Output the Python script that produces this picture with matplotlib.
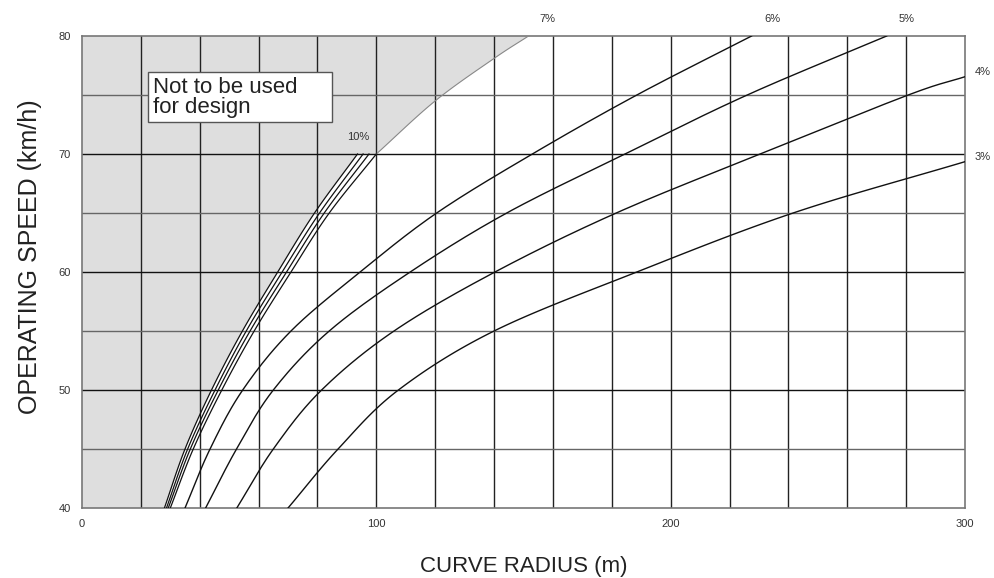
import numpy as np
import matplotlib
matplotlib.use("Agg")
import matplotlib.pyplot as plt
from matplotlib.patches import Rectangle

plt.rcParams["font.family"] = ["Liberation Sans", "DejaVu Sans"]

# operating speed steps (km/h) shared by most curves
speeds = [40, 45, 50, 55, 60, 65, 70]
speeds_full = [40, 45, 50, 55, 60, 65, 70, 75, 80]

# tight family of curves along the edge of the shaded zone (10% .. 7%)
radius_10 = [28.0, 35.0, 44.0, 54.5, 66.5, 79.0, 93.6]
radius_9 = [28.7, 35.9, 45.2, 55.8, 68.0, 80.7, 95.5]
radius_8 = [29.3, 36.8, 46.3, 57.1, 69.5, 82.3, 97.5]
radius_7 = [30.0, 37.8, 47.5, 58.5, 71.0, 84.0, 100.0]

# open curves
radius_6 = [35.0, 43.5, 54.6, 71.0, 94.5, 120.5, 153.0, 188.5, 227.5]
radius_5 = [42.0, 52.5, 65.0, 84.0, 111.5, 144.3, 184.5, 226.0, 273.4]
radius_4 = [52.6, 65.0, 81.4, 106.0, 140.3, 181.5, 230.4, 280.7, 300.0]
speed_4 = [40, 45, 50, 55, 60, 65, 70, 75, 76.55]
radius_3 = [70.0, 87.0, 107.5, 140.0, 188.5, 241.6, 300.0]
speed_3 = [40, 45, 50, 55, 60, 65, 69.35]

# upper limit of the shaded zone above 70 km/h
limit_radius = [100.0, 120.0, 140.0, 151.7]
limit_speed = [70.0, 74.5, 78.1, 80.0]

labels = ["10%", "7%", "6%", "5%", "4%", "3%"]
label_pos = [(93.8, 71.4), (158, 81.4), (234.5, 81.4), (280, 81.4),
             (306, 76.95), (306, 69.75)]


def smooth(xs, ys, n=20):
    # Catmull-Rom pass through the read points so the curves are not jagged
    p = np.column_stack([xs, ys]).astype(float)
    p = np.vstack([2 * p[0] - p[1], p, 2 * p[-1] - p[-2]])
    out = []
    t = np.linspace(0, 1, n, endpoint=False)[:, None]
    for i in range(1, len(p) - 2):
        p0, p1, p2, p3 = p[i - 1], p[i], p[i + 1], p[i + 2]
        seg = 0.5 * ((2 * p1) + (-p0 + p2) * t + (2 * p0 - 5 * p1 + 4 * p2 - p3) * t ** 2
                     + (-p0 + 3 * p1 - 3 * p2 + p3) * t ** 3)
        out.append(seg)
    out.append(p[-2][None, :])
    out = np.vstack(out)
    return out[:, 0], out[:, 1]


fig = plt.figure(figsize=(9.94, 5.78), dpi=100)
ax = fig.add_axes([0.0825, 0.1211, 0.8883, 0.8166])
ax.set_xlim(0, 300)
ax.set_ylim(40, 80)

# shaded "not for design" zone
ex, ey = smooth(radius_10, speeds)
lx, ly = smooth(limit_radius, limit_speed)
poly_x = np.concatenate([[0], ex, lx, [0]])
poly_y = np.concatenate([[40], ey, ly, [80]])
ax.fill(poly_x, poly_y, color="#dedede", lw=0, zorder=0)
ax.plot(lx, ly, color="#888888", lw=0.8, zorder=3)

# grid
for x in range(20, 300, 20):
    ax.axvline(x, color="#222222", lw=1.0, zorder=1)
for y in range(45, 80, 5):
    c = "#111111" if y % 10 == 0 else "#666666"
    ax.axhline(y, color=c, lw=1.0, zorder=1)

for r in [radius_10, radius_9, radius_8, radius_7]:
    sx, sy = smooth(r, speeds)
    ax.plot(sx, sy, color="#111111", lw=0.9, zorder=4)

for r, s in [(radius_6, speeds_full), (radius_5, speeds_full),
             (radius_4, speed_4), (radius_3, speed_3)]:
    sx, sy = smooth(r, s)
    ax.plot(sx, sy, color="#111111", lw=1.0, zorder=4)

for txt, (x, y) in zip(labels, label_pos):
    ax.text(x, y, txt, fontsize=8, color="#333333", ha="center", va="center",
            clip_on=False)

ax.add_patch(Rectangle((22.4, 72.7), 62.5, 4.25, fc="white", ec="#555555",
                       lw=1.0, zorder=5))
ax.text(24.2, 76.55, "Not to be used\nfor design", fontsize=16, color="#222222",
        ha="left", va="top", linespacing=0.95, zorder=6)

for s in ax.spines.values():
    s.set_color("#777777")
    s.set_linewidth(1.2)

ax.set_xticks([0, 100, 200, 300])
ax.set_yticks([40, 50, 60, 70, 80])
ax.tick_params(length=0, labelsize=8, labelcolor="#333333", pad=8)
ax.set_xlabel("CURVE RADIUS (m)", fontsize=16, color="#222222", va="center")
ax.set_ylabel("OPERATING SPEED (km/h)", fontsize=18, color="#222222", va="center")
ax.xaxis.set_label_coords(0.5, -0.123)
ax.yaxis.set_label_coords(-0.059, 0.532)

fig.savefig("out.png", dpi=100)
